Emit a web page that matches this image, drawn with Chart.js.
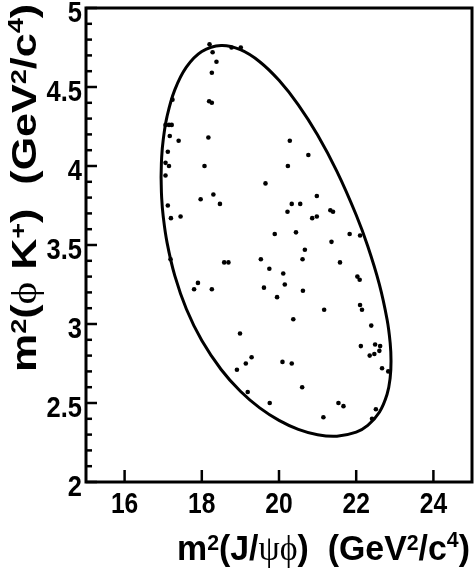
<!DOCTYPE html>
<html>
<head>
<meta charset="utf-8">
<script src="https://cdn.jsdelivr.net/npm/chart.js@4.4.1/dist/chart.umd.min.js"></script>
<style>
html,body{margin:0;padding:0;background:#fff}
canvas{display:block}
</style>
</head>
<body>
<canvas id="dalitzChart" width="476" height="571"></canvas>
<script>

// ===============================
// DATA
// ===============================

const xTicks = [16,18,20,22,24]
const xTickLabels = ["16","18","20","22","24"]
const yTicks = [2,2.5,3,3.5,4,4.5,5]
const yTickLabels = ["2","2.5","3","3.5","4","4.5","5"]

// events, m2(J/psi phi) and m2(phi K+)
const eventX = [18.20,18.28,18.77,19.01,18.38,18.26,17.24,18.19,18.26,17.06,
17.15,17.22,17.17,17.40,18.17,20.28,20.76,17.12,17.06,17.15,
18.07,20.23,17.06,19.65,18.30,20.98,17.97,18.47,17.12,20.33,
20.55,20.22,20.86,20.98,21.33,21.40,17.20,17.45,19.89,20.44,
21.83,22.10,21.36,20.67,20.61,21.58,17.19,18.58,18.69,19.53,
19.75,20.11,20.15,22.03,22.09,17.90,17.80,18.26,19.61,19.95,
20.62,21.17,22.10,22.15,20.37,22.39,18.99,22.12,22.49,22.62,
22.35,22.47,22.60,19.29,19.14,18.91,20.09,20.33,22.67,22.83,
20.60,19.19,19.76,21.54,21.67,21.15,22.51,22.41]

const eventY = [4.77,4.72,4.75,4.75,4.66,4.59,4.42,4.41,4.40,4.26,
4.26,4.26,4.19,4.16,4.18,4.16,4.07,4.09,4.02,4.00,
4.00,4.00,3.94,3.89,3.82,3.81,3.79,3.76,3.75,3.76,
3.76,3.71,3.67,3.68,3.72,3.71,3.67,3.68,3.57,3.58,
3.57,3.56,3.52,3.47,3.41,3.39,3.41,3.39,3.39,3.41,
3.35,3.32,3.25,3.30,3.28,3.26,3.22,3.22,3.23,3.17,
3.21,3.09,3.12,3.09,3.03,2.99,2.94,2.86,2.87,2.86,
2.80,2.81,2.83,2.79,2.75,2.71,2.76,2.75,2.72,2.70,
2.60,2.57,2.50,2.50,2.48,2.41,2.46,2.40]

// kinematic boundary (upper edge left->right, lower edge right->left)
const edgeX = [16.945,16.96,17.0,17.1,17.3,17.6,18.0,18.5,19.0,19.5,20.0,20.5,21.0,21.5,22.0,22.3,22.6,22.8,22.88,22.902,
22.88,22.8,22.6,22.3,22.0,21.5,21.0,20.5,20.0,19.5,19.0,18.5,18.0,17.6,17.3,17.1,17.0,16.96,16.945]

const edgeY = [3.929,4.055,4.165,4.314,4.482,4.626,4.725,4.763,4.736,4.660,4.542,4.387,4.196,3.966,3.690,3.492,3.251,3.028,2.880,2.764,
2.660,2.555,2.441,2.358,2.316,2.290,2.299,2.333,2.390,2.469,2.574,2.712,2.895,3.095,3.306,3.515,3.682,3.800,3.929]

// ===============================
// TEXT HELPERS
// ===============================

const SANS = '"Liberation Sans", Arial, sans-serif'
const SERIF = '"Liberation Serif", "Times New Roman", serif'

function segFont(kind,size){
if(kind==="g") return size+"px "+SERIF
if(kind==="sup" || kind==="sup4") return "bold "+Math.round(size*0.62)+"px "+SANS
return "bold "+size+"px "+SANS
}

function segShift(kind,size){
if(kind==="sup") return -size*0.28
if(kind==="sup4") return -size*0.38
return 0
}

// draws mixed-font text from current origin, squeezed to fit width
function drawRich(ctx,segs,size,fitWidth){
let total = 0
segs.forEach(s=>{
ctx.font = segFont(s[1],size)
total += ctx.measureText(s[0]).width
})
const k = fitWidth/total
ctx.scale(k,1)
ctx.textAlign = "left"
ctx.textBaseline = "alphabetic"
let pos = 0
segs.forEach(s=>{
ctx.font = segFont(s[1],size)
ctx.fillText(s[0],pos,segShift(s[1],size))
pos += ctx.measureText(s[0]).width
})
}

const xTitle = [["m","b"],["2","sup"],["(J/","b"],["ψϕ","g"],[")  (GeV","b"],["2","sup"],["/c","b"],["4","sup4"],[")","b"]]
const yTitle = [["m","b"],["2","sup"],["(","b"],["ϕ","g"],[" K","b"],["+","sup"],[")  (GeV","b"],["2","sup"],["/c","b"],["4","sup4"],[")","b"]]

// ===============================
// FRAME, TICKS, LABELS
// ===============================

const framePlugin = {

id:"frame",

afterDatasetsDraw(chart){

const ctx = chart.ctx
const a = chart.chartArea
const xs = chart.scales.x
const ys = chart.scales.y

ctx.save()
ctx.strokeStyle = "#000"
ctx.fillStyle = "#000"
ctx.lineCap = "butt"

ctx.lineWidth = 2.5

xTicks.forEach(v=>{
const px = xs.getPixelForValue(v)
ctx.beginPath()
ctx.moveTo(px,a.bottom)
ctx.lineTo(px,a.bottom-12)
ctx.stroke()
})

for(let i=0;i<=30;i++){
const py = ys.getPixelForValue(2+i*0.1)
const len = i%5===0 ? 11 : 6
ctx.beginPath()
ctx.moveTo(a.left,py)
ctx.lineTo(a.left+len,py)
ctx.stroke()
}

ctx.lineWidth = 3
ctx.strokeRect(a.left,a.top,a.right-a.left,a.bottom-a.top)

// tick labels
ctx.font = "bold 30px "+SANS
ctx.textBaseline = "alphabetic"

xTicks.forEach((v,i)=>{
ctx.save()
ctx.translate(xs.getPixelForValue(v),513)
ctx.scale(0.82,1)
ctx.textAlign = "center"
ctx.fillText(xTickLabels[i],0,0)
ctx.restore()
})

yTicks.forEach((v,i)=>{
ctx.save()
ctx.translate(82,ys.getPixelForValue(v)+14)
ctx.scale(0.85,1)
ctx.textAlign = "right"
ctx.fillText(yTickLabels[i],0,0)
ctx.restore()
})

// axis titles
ctx.save()
ctx.translate(177,560)
drawRich(ctx,xTitle,35,293)
ctx.restore()

ctx.save()
ctx.translate(36,372)
ctx.rotate(-Math.PI/2)
drawRich(ctx,yTitle,35,368)
ctx.restore()

ctx.restore()

}

}

// ===============================
// CHART
// ===============================

const edgePoints = edgeX.map((x,i)=>({x:x,y:edgeY[i]}))
const eventPoints = eventX.map((x,i)=>({x:x,y:eventY[i]}))

new Chart(document.getElementById("dalitzChart"),{

type:"scatter",

data:{
datasets:[

{
data:edgePoints,
showLine:true,
borderColor:"#000",
borderWidth:3,
pointRadius:0,
tension:0.4,
fill:false
},

{
data:eventPoints,
showLine:false,
pointRadius:2.3,
pointBorderWidth:0,
pointBackgroundColor:"#000"
}

]
},

options:{
responsive:false,
animation:false,
devicePixelRatio:1,

layout:{
padding:{top:8,right:3,left:0,bottom:0}
},

plugins:{
legend:{display:false},
tooltip:{enabled:false}
},

scales:{

x:{
type:"linear",
min:15,
max:25,
grid:{display:false,drawTicks:false},
border:{display:false},
ticks:{display:false},
afterFit(s){ s.height = 89 }
},

y:{
type:"linear",
min:2,
max:5,
grid:{display:false,drawTicks:false},
border:{display:false},
ticks:{display:false},
afterFit(s){ s.width = 86 }
}

}

},

plugins:[framePlugin]

})

</script>
</body>
</html>
